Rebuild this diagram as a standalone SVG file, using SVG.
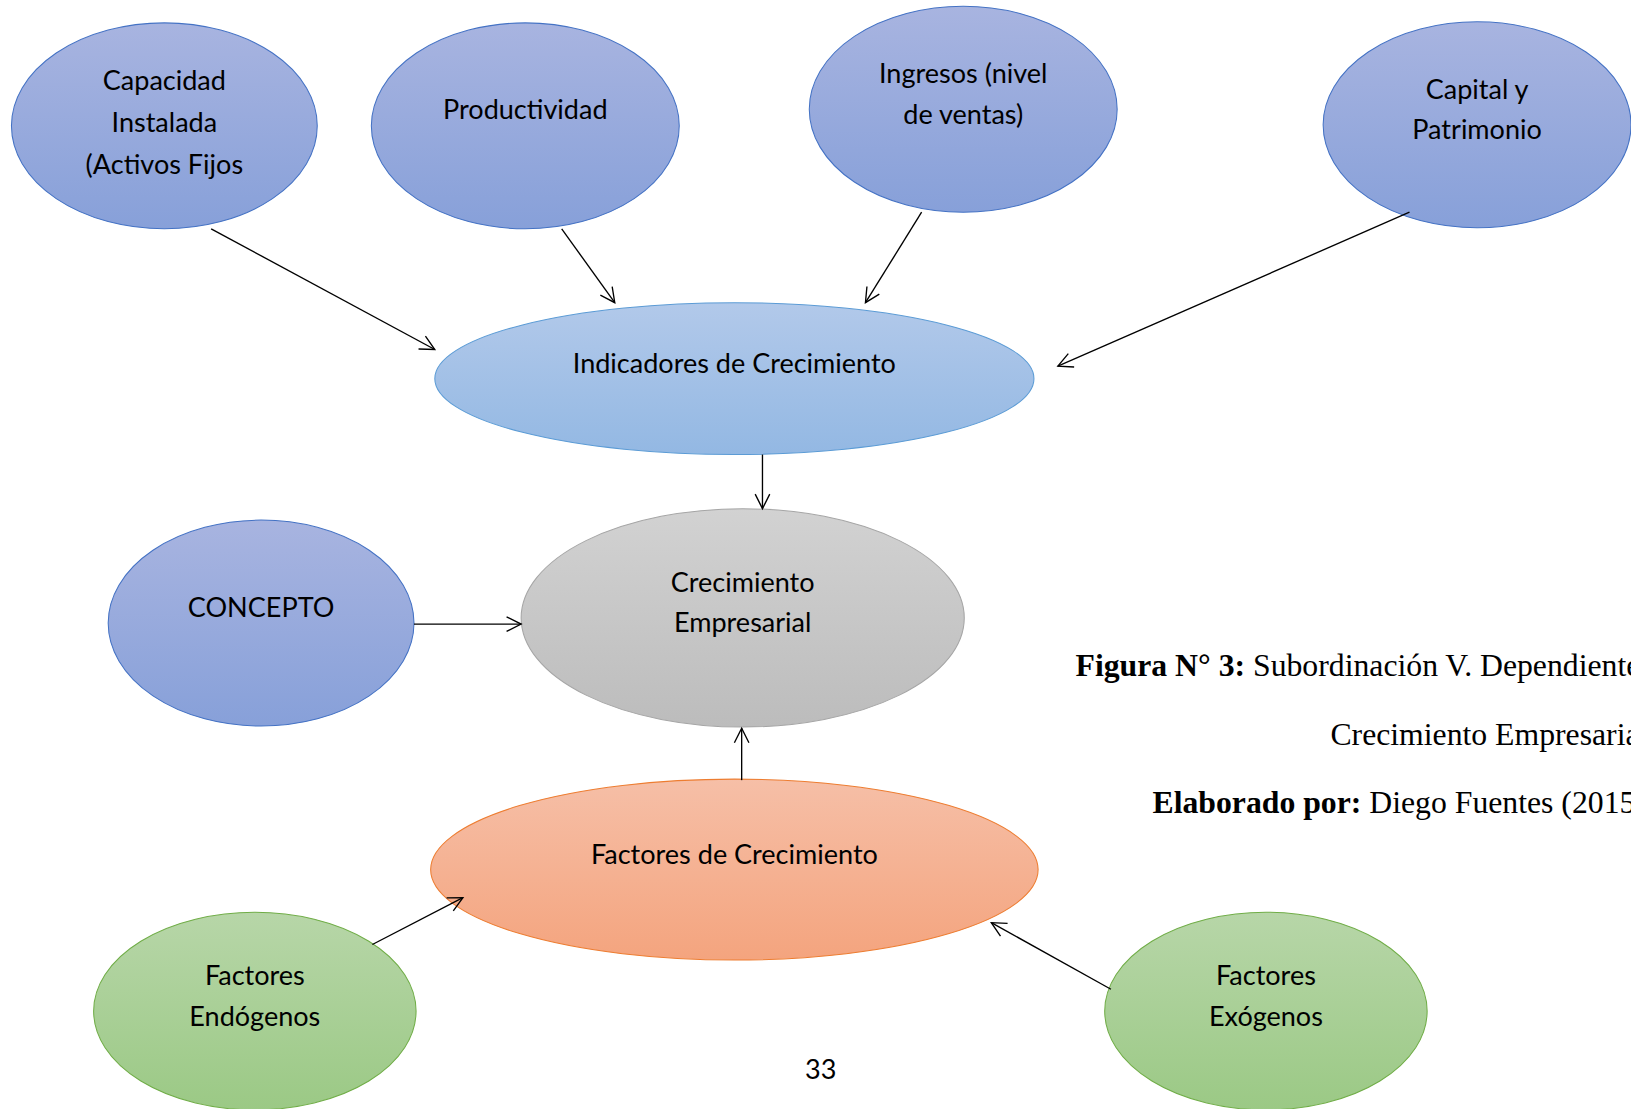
<svg xmlns="http://www.w3.org/2000/svg" width="1631" height="1109" viewBox="0 0 1631 1109">
<defs>
<linearGradient id="gBlue" x1="0" y1="0" x2="0" y2="1"><stop offset="0" stop-color="#a8b4e0"/><stop offset="1" stop-color="#87a0d9"/></linearGradient>
<linearGradient id="gLight" x1="0" y1="0" x2="0" y2="1"><stop offset="0" stop-color="#b2c9ea"/><stop offset="1" stop-color="#93b8e3"/></linearGradient>
<linearGradient id="gGrey" x1="0" y1="0" x2="0" y2="1"><stop offset="0" stop-color="#d2d2d2"/><stop offset="1" stop-color="#bcbcbc"/></linearGradient>
<linearGradient id="gOrange" x1="0" y1="0" x2="0" y2="1"><stop offset="0" stop-color="#f6bfa7"/><stop offset="1" stop-color="#f4a47e"/></linearGradient>
<linearGradient id="gGreen" x1="0" y1="0" x2="0" y2="1"><stop offset="0" stop-color="#b7d6a8"/><stop offset="1" stop-color="#9bc985"/></linearGradient>
<marker id="arr" viewBox="-1 -8 17 16" refX="14" refY="0" markerWidth="17" markerHeight="16" markerUnits="userSpaceOnUse" orient="auto">
<path d="M0,-7 L14,0 L0,7" fill="none" stroke="#000" stroke-width="1.3"/>
</marker>
<style>
.lbl{font-family:Lato,"Open Sans","Noto Sans",sans-serif;font-size:26px;fill:#000;text-anchor:middle}
.cap{font-family:"Liberation Serif","Times New Roman",serif;font-size:30.5px;fill:#000}
.b{font-weight:bold}
.con line{stroke:#000;stroke-width:1.3;marker-end:url(#arr)}
</style>
</defs>
<rect width="1631" height="1109" fill="#fff"/>
<g transform="scale(1.0402)">
<g id="capacidad"><ellipse cx="158" cy="121" rx="147" ry="99" fill="url(#gBlue)" stroke="#4472c4" stroke-width="1"/>
<text class="lbl" x="158" y="87">Capacidad</text><text class="lbl" x="158" y="127">Instalada</text><text class="lbl" x="158" y="167">(Activos Fijos</text></g>
<g id="productividad"><ellipse cx="505" cy="121" rx="148" ry="99" fill="url(#gBlue)" stroke="#4472c4" stroke-width="1"/>
<text class="lbl" x="505" y="114">Productividad</text></g>
<g id="ingresos"><ellipse cx="926" cy="105" rx="148" ry="99" fill="url(#gBlue)" stroke="#4472c4" stroke-width="1"/>
<text class="lbl" x="926" y="80">Ingresos (nivel</text><text class="lbl" x="926" y="119">de ventas)</text></g>
<g id="capital"><ellipse cx="1420" cy="120" rx="148" ry="99" fill="url(#gBlue)" stroke="#4472c4" stroke-width="1"/>
<text class="lbl" x="1420" y="95">Capital y</text><text class="lbl" x="1420" y="134">Patrimonio</text></g>
<g id="indicadores"><ellipse cx="706" cy="364" rx="288" ry="73" fill="url(#gLight)" stroke="#5b9bd5" stroke-width="1"/>
<text class="lbl" x="706" y="359">Indicadores de Crecimiento</text></g>
<g id="crecimiento"><ellipse cx="714" cy="594" rx="213" ry="105" fill="url(#gGrey)" stroke="#a5a5a5" stroke-width="1"/>
<text class="lbl" x="714" y="569">Crecimiento</text><text class="lbl" x="714" y="608">Empresarial</text></g>
<g id="concepto"><ellipse cx="251" cy="599" rx="147" ry="99" fill="url(#gBlue)" stroke="#4472c4" stroke-width="1"/>
<text class="lbl" x="251" y="593">CONCEPTO</text></g>
<g id="factores"><ellipse cx="706" cy="836" rx="292" ry="87" fill="url(#gOrange)" stroke="#ed7d31" stroke-width="1"/>
<text class="lbl" x="706" y="831">Factores de Crecimiento</text></g>
<g id="endogenos"><ellipse cx="245" cy="972" rx="155" ry="95" fill="url(#gGreen)" stroke="#70ad47" stroke-width="1"/>
<text class="lbl" x="245" y="947">Factores</text><text class="lbl" x="245" y="986">Endógenos</text></g>
<g id="exogenos"><ellipse cx="1217" cy="972" rx="155" ry="95" fill="url(#gGreen)" stroke="#70ad47" stroke-width="1"/>
<text class="lbl" x="1217" y="947">Factores</text><text class="lbl" x="1217" y="986">Exógenos</text></g>
<g id="connectors" class="con">
<line x1="203" y1="220" x2="418" y2="336"/>
<line x1="540" y1="220" x2="591" y2="291"/>
<line x1="886" y1="204" x2="832" y2="291"/>
<line x1="1355" y1="204" x2="1017" y2="352"/>
<line x1="733" y1="437" x2="733" y2="489"/>
<line x1="398" y1="600" x2="501" y2="600"/>
<line x1="713" y1="750" x2="713" y2="700"/>
<line x1="358" y1="908" x2="445" y2="863"/>
<line x1="1068" y1="951" x2="953" y2="887"/>
</g>
<g id="caption">
<text class="cap" x="1034" y="650"><tspan class="b">Figura N° 3:</tspan> Subordinación V. Dependiente</text>
<text class="cap" x="1279" y="716">Crecimiento Empresarial</text>
<text class="cap" x="1108" y="782"><tspan class="b">Elaborado por:</tspan> Diego Fuentes (2015)</text>
</g>
<text class="lbl" x="789" y="1037">33</text>
</g>
</svg>
